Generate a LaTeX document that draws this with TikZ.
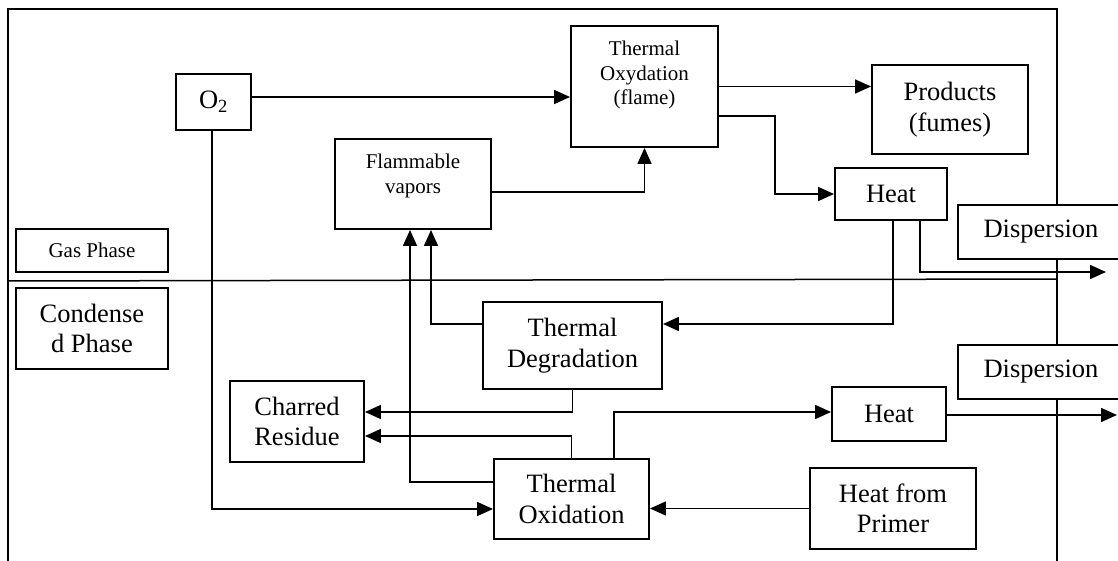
\documentclass[tikz,border=0pt]{standalone}
\usepackage{fontspec}
\setmainfont{Liberation Serif}
\usetikzlibrary{arrows.meta}
\newcommand\diabig{\fontsize{26.5}{30.5}\selectfont}
\newcommand\diasmall{\fontsize{21}{24.5}\selectfont}
\begin{document}
\begin{tikzpicture}[x=1pt,y=-1pt,
  box/.style={draw, line width=1.9pt, fill=white, inner sep=0pt, align=center, font=\diabig},
  lbl/.style={inner sep=0pt, align=center, font=\diasmall},
  conn/.style={line width=1.5pt},
  arr/.style={conn, -{Triangle[length=16pt,width=14pt]}}]
\useasboundingbox (0,0) rectangle (1118,561);
% frame and phase line
\draw[conn] (8,561) -- (8,9) -- (1057,9) -- (1057,561);
\draw[conn] (8,281) -- (1057,279);
% nodes
\node[box, minimum width=75pt, minimum height=56pt] (O2) at (213.5,102) {O\textsubscript{2}};
\node[box, minimum width=147pt, minimum height=121pt] (TOf) at (644.5,86.5) {};
\node[lbl] (TOftext) at (644.5,75) {Thermal\\Oxydation\\(flame)};
\node[box, minimum width=156pt, minimum height=90pt] (FV) at (413,184) {};
\node[lbl] (FVtext) at (413,176) {Flammable\\vapors};
\node[box, minimum width=156pt, minimum height=89pt] (Prod) at (950,109.5) {Products\\(fumes)};
\node[box, minimum width=112pt, minimum height=52pt] (Heat1) at (891,194) {Heat};
\node[box, minimum width=152pt, minimum height=43pt, font=\diasmall] (Gas) at (92,250.5) {Gas Phase};
\node[box, minimum width=152pt, minimum height=81pt] (Cond) at (92,328.5) {Condense\\d Phase};
\node[box, minimum width=179pt, minimum height=87pt] (TD) at (572.5,345.5) {Thermal\\Degradation};
\node[box, minimum width=134pt, minimum height=81pt] (Char) at (297,421.5) {Charred\\Residue};
\node[box, minimum width=155pt, minimum height=80pt] (TOx) at (571.5,499) {Thermal\\Oxidation};
\node[box, minimum width=114pt, minimum height=54pt] (Heat2) at (889,414) {Heat};
\node[box, minimum width=166pt, minimum height=81pt] (HfP) at (893,508.5) {Heat from\\Primer};
\node[box, minimum width=166pt, minimum height=54pt] (Disp1) at (1041,232) {Dispersion};
\node[box, minimum width=166pt, minimum height=54pt] (Disp2) at (1041,372) {Dispersion};
\coordinate (d1) at (1106,272);
\coordinate (d2) at (1117,415);
% connectors
\draw[arr] ([yshift=5pt]O2.east) -- ([yshift=5pt]O2.east -| TOf.west);
\draw[arr] ([yshift=-8pt]FV.east) -| (TOf.south);
\draw[arr] (TOf.east) -- (TOf.east -| Prod.west);
\draw[arr] ([yshift=-29.5pt]TOf.east) -| ([xshift=-59pt]Heat1.west) -- (Heat1.west);
\draw[arr] ([xshift=2pt]Heat1.south) |- ([yshift=21.5pt]TD.east);
\draw[arr] ([xshift=29pt]Heat1.south) |- (d1);
\draw[arr] ([yshift=-1pt]Heat2.east) -- (d2);
\draw[arr] ([yshift=21.5pt]TD.west) -| ([xshift=18pt]FV.south);
\draw[arr] ([yshift=17pt]TOx.west) -| ([xshift=-3pt]FV.south);
\draw[arr] (TD.south) |- ([yshift=9.5pt]Char.east);
\draw[arr] (TOx.north) |- ([yshift=-14.5pt]Char.east);
\draw[arr] ([xshift=42.5pt]TOx.north) |- ([yshift=2pt]Heat2.west);
\draw[arr] ([xshift=-1.5pt]O2.south) |- ([yshift=-10pt]TOx.west);
\draw[arr] (HfP.west) -- (HfP.west -| TOx.east);
\end{tikzpicture}
\end{document}
